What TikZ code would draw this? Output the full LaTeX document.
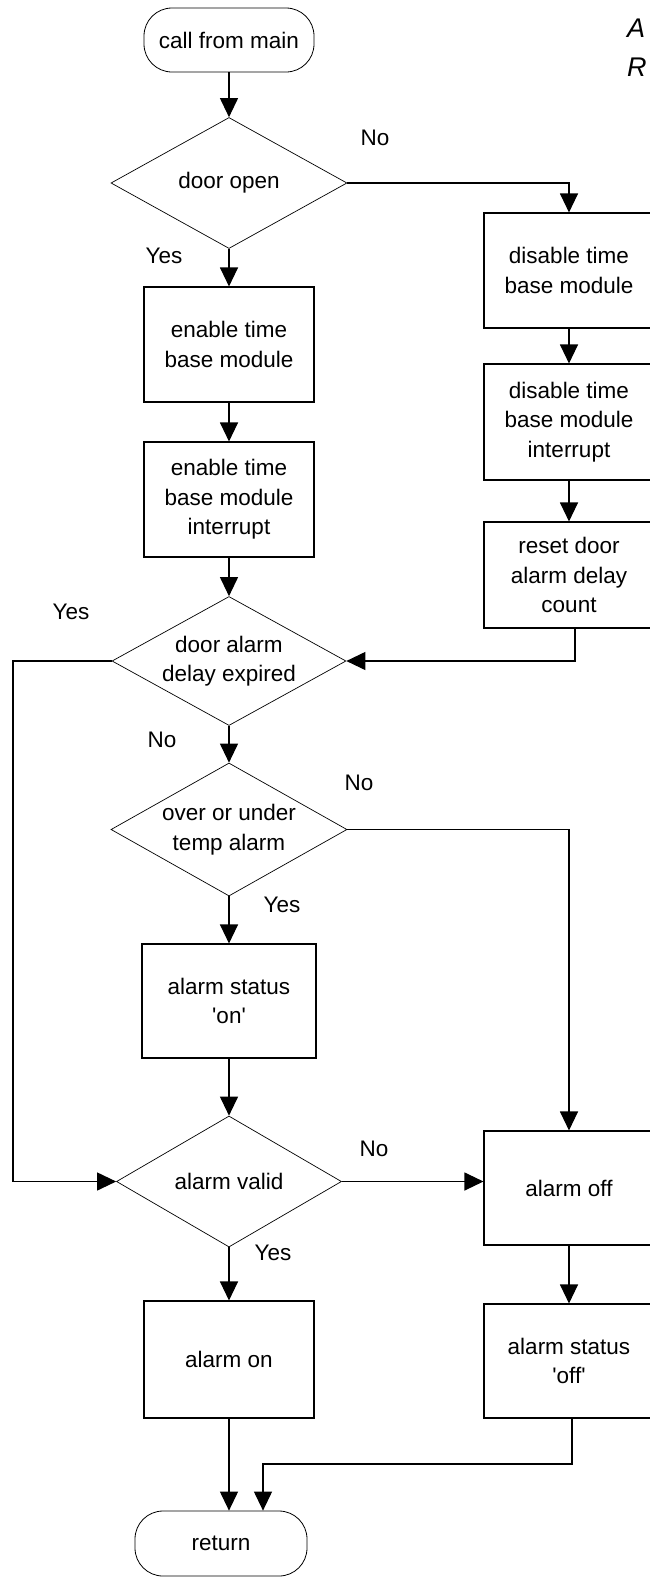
\documentclass[tikz,border=0pt]{standalone}
\usepackage{fontspec}
\setmainfont{Liberation Sans}
\usetikzlibrary{shapes.geometric,arrows.meta}
\begin{document}
\begin{tikzpicture}[
  x=1pt, y=1pt,
  block/.style={rectangle, draw, line width=1.1pt, minimum width=170pt, minimum height=115pt, align=center},
  decision/.style={diamond, draw, line width=0.7pt, inner sep=-30pt, minimum width=236pt, minimum height=131pt, align=center},
  terminal/.style={rectangle, draw, line width=0.8pt, rounded corners=28pt, minimum width=170pt, minimum height=64pt},
  flow/.style={-{Triangle[length=19pt,width=18pt]}, line width=1.1pt},
  node distance=150pt,
  font=\fontsize{22.5}{29.5}\selectfont
]
\useasboundingbox (0,0) rectangle (650,-1577);
\clip (0,0) rectangle (650,-1577);

% main column
\node[terminal] (call) at (229,-40) {call from main};
\node[decision, below of=call, node distance=143pt] (open) {door open};
\node[block, below of=open, node distance=161.5pt] (entb) {enable time\\base module};
\node[block, below of=entb, node distance=155pt] (enint) {enable time\\base module\\interrupt};
\node[decision, below of=enint, node distance=161.5pt, minimum width=234pt, minimum height=129pt] (expired) {door alarm\\delay expired};
\node[decision, below of=expired, node distance=168.5pt, minimum height=133pt] (temp) {over or under\\temp alarm};
\node[block, below of=temp, node distance=171.5pt, minimum width=174pt, minimum height=114pt] (statuson) {alarm status\\\textquotesingle on\textquotesingle};
\node[decision, below of=statuson, node distance=180.5pt, minimum width=225pt] (valid) {alarm valid};
\node[block, below of=valid, node distance=178pt, minimum height=117pt] (alarmon) {alarm on};
\node[terminal, below of=alarmon, node distance=184pt, xshift=-8pt, minimum width=172pt, minimum height=65pt] (ret) {return};

% right column
\node[block] (distb) at (569,-270.5) {disable time\\base module};
\node[block, below of=distb, node distance=151.5pt, minimum height=116pt] (disint) {disable time\\base module\\interrupt};
\node[block, below of=disint, node distance=153pt, minimum height=106pt] (reset) {reset door\\alarm delay\\count};
\node[block, below of=reset, node distance=613pt, minimum height=114pt] (alarmoff) {alarm off};
\node[block, below of=alarmoff, node distance=173pt, minimum height=114pt] (statusoff) {alarm status\\\textquotesingle off\textquotesingle};

% title, cut at the edge
\node[anchor=base west, inner sep=0pt, font=\fontsize{27}{30}\selectfont\itshape] (titlea) at (627,-37) {A};
\node[anchor=base west, inner sep=0pt, font=\fontsize{27}{30}\selectfont\itshape] (titler) at (627,-76) {R};

% branch labels
\node (noopen) at (375,-138) {No};
\node (yesopen) at (164,-256) {Yes};
\node (yesexp) at (71,-612) {Yes};
\node (noexp) at (162,-740) {No};
\node (notemp) at (359,-783) {No};
\node (yestemp) at (282,-905) {Yes};
\node (novalid) at (374,-1149) {No};
\node (yesvalid) at (273,-1253) {Yes};

\coordinate (leftrail) at (13,-900);
\coordinate (merge) at (263,-1464);

\draw[flow] (call) -- (open);
\draw[flow] (open.east) -| (distb.north);
\draw[flow] (open) -- (entb);
\draw[flow] (entb) -- (enint);
\draw[flow] (distb) -- (disint);
\draw[flow] (disint) -- (reset);
\draw[flow] (enint) -- (expired);
\draw[flow] ([xshift=6pt]reset.south) |- (expired.east);
\draw[flow] (expired.west) -| (leftrail) |- (valid.west);
\draw[flow] (expired) -- (temp);
\draw[flow] (temp.east) -| (alarmoff.north);
\draw[flow] (temp) -- (statuson);
\draw[flow] (statuson) -- (valid);
\draw[flow] (valid.east) -- (valid.east -| alarmoff.west);
\draw[flow] (valid) -- (alarmon);
\draw[flow] (alarmoff) -- (statusoff);
\draw[flow] (alarmon.south) -- (alarmon.south |- ret.north);
\draw[flow] ([xshift=3pt]statusoff.south) |- (merge) -- (merge |- ret.north);
\end{tikzpicture}
\end{document}
